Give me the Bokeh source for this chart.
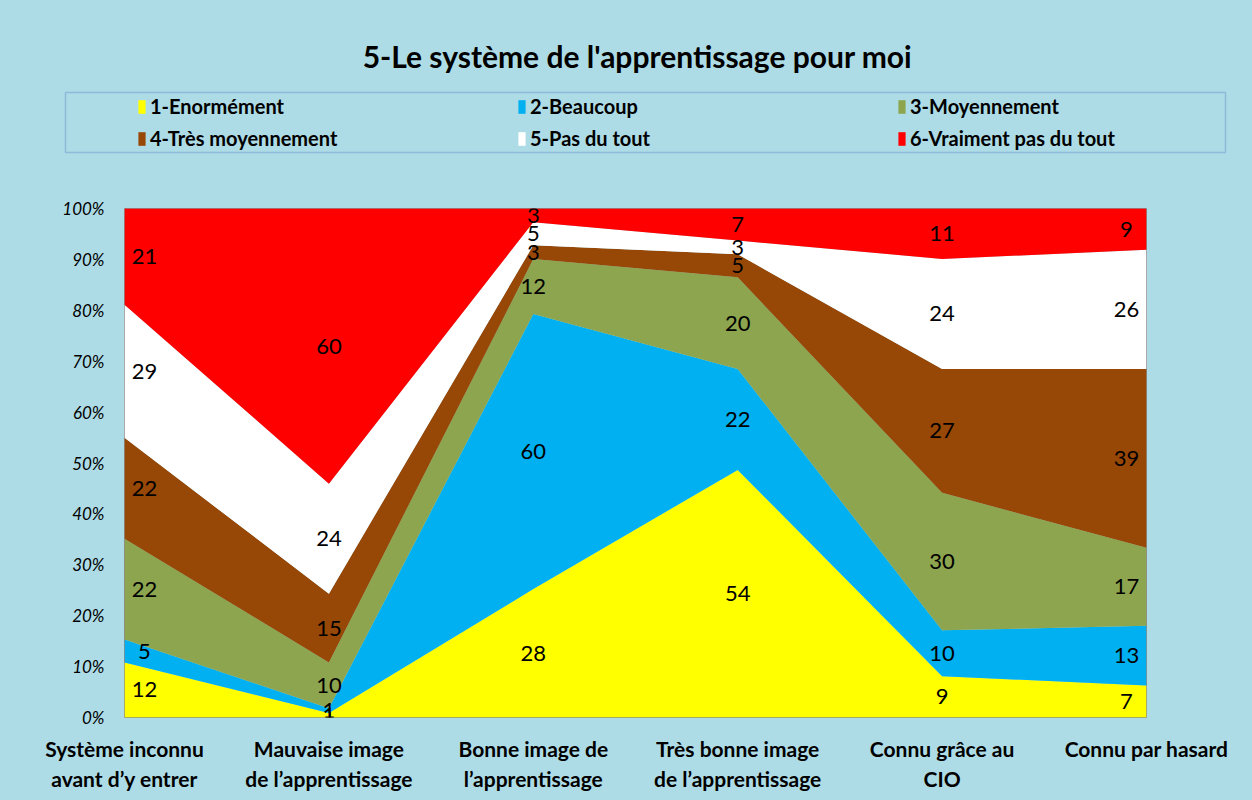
import numpy as np
from bokeh.plotting import figure
from bokeh.models import (ColumnDataSource, Range1d, NumeralTickFormatter, Legend, LegendItem,
                          FixedTicker, Label, BoxAnnotation)
from bokeh.core.properties import value
from bokeh.embed import file_html
from bokeh.resources import INLINE

# ---- data ----
title_text = "5-Le système de l'apprentissage pour moi"
categories = ["Système inconnu\navant d’y entrer", "Mauvaise image\nde l’apprentissage",
              "Bonne image de\nl’apprentissage", "Très bonne image\nde l’apprentissage",
              "Connu grâce au\nCIO", "Connu par hasard"]
series_names = ["1-Enormément", "2-Beaucoup", "3-Moyennement",
                "4-Très moyennement", "5-Pas du tout", "6-Vraiment pas du tout"]
enormement = [12, 1, 28, 54, 9, 7]
beaucoup = [5, 1, 60, 22, 10, 13]
moyennement = [22, 10, 12, 20, 30, 17]
tres_moyennement = [22, 15, 3, 5, 27, 39]
pas_du_tout = [29, 24, 5, 3, 24, 26]
vraiment_pas = [21, 60, 3, 7, 11, 9]
y_ticks = [0, 0.1, 0.2, 0.3, 0.4, 0.5, 0.6, 0.7, 0.8, 0.9, 1.0]
colors = ["#FFFF00", "#00B0F0", "#8CA54E", "#974706", "#FFFFFF", "#FF0000"]

series = [enormement, beaucoup, moyennement, tres_moyennement, pas_du_tout, vraiment_pas]
vals = np.array(series, dtype=float)
totals = vals.sum(axis=0)
fracs = vals / totals

xs = list(range(len(categories)))
keys = ["s%d" % i for i in range(len(series))]
src = ColumnDataSource(dict(x=xs, **{k: fracs[i] for i, k in enumerate(keys)}))

BG = "#AEDCE6"
W = 1250

# ---------------- header: title + legend ----------------
HH = 190
header = figure(width=W, height=HH, output_backend="svg", toolbar_location=None,
                x_range=Range1d(0, W), y_range=Range1d(HH, 0),
                x_axis_type=None, y_axis_type=None, min_border=0,
                background_fill_color=BG, border_fill_color=BG, outline_line_color=None)
header.grid.grid_line_color = None
header.extra_x_ranges = {"off": Range1d(1000, 1001)}
hrends = header.varea_stack(stackers=keys, x="x", color=colors, source=src, x_range_name="off")

header.add_layout(Label(x=637, y=55, text=title_text, text_align="center", text_baseline="middle",
                        text_font="Lato", text_font_style="bold", text_font_size="30px",
                        text_color="#000000"))
header.add_layout(BoxAnnotation(left=65, right=1225, top=92, bottom=152, fill_alpha=0,
                                line_color="#4472C4", line_width=1.5))
order = [0, 3, 1, 4, 2, 5]  # column-major fill -> rows as in the original
items = [LegendItem(label=series_names[i], renderers=[hrends[i]]) for i in order]
legend = Legend(items=items, ncols=3, location=(137, 40),
                glyph_width=9, glyph_height=17, label_standoff=4, label_width=359,
                spacing=8, padding=0, margin=0,
                label_text_font="Lato", label_text_font_style="bold", label_text_font_size="20px",
                label_text_color="#000000",
                border_line_color=None, background_fill_alpha=0)
header.add_layout(legend, "center")

# ---------------- main chart ----------------
p = figure(width=W, height=608, output_backend="svg", toolbar_location=None,
           x_range=Range1d(0, len(categories) - 1), y_range=Range1d(0, 1),
           min_border_left=124, min_border_right=104, min_border_top=18, min_border_bottom=81,
           background_fill_color=BG, border_fill_color=BG,
           outline_line_color="#8c8c8c", outline_line_width=1)

p.varea_stack(stackers=keys, x="x", color=colors, source=src)

# labels at segment midpoints
cum = np.cumsum(fracs, axis=0)
lx, ly, lt, lo = [], [], [], []
cat_off = [20, 0, 0, 0, 0, -20]
for i in range(len(series)):
    for j in range(len(categories)):
        lx.append(xs[j])
        ly.append(cum[i, j] - fracs[i, j] / 2)
        lt.append(str(int(vals[i, j])))
        lo.append(cat_off[j])
lsrc = ColumnDataSource(dict(x=lx, y=ly, text=lt, xo=lo))
p.text(x="x", y="y", text="text", x_offset="xo", source=lsrc, text_align="center",
       text_baseline="middle", text_font=value("Lato"), text_font_size="22px", text_color="#000000")

p.xaxis.ticker = FixedTicker(ticks=xs)
p.xaxis.major_label_overrides = {x: c for x, c in zip(xs, categories)}
p.xaxis.major_label_text_font = "Lato"
p.xaxis.major_label_text_font_style = "bold"
p.xaxis.major_label_text_font_size = "21px"
p.xaxis.major_label_text_color = "#000000"
p.xaxis.major_label_standoff = 12
p.xaxis.axis_line_color = None
p.xaxis.major_tick_line_color = None
p.xaxis.minor_tick_line_color = None

p.yaxis.ticker = FixedTicker(ticks=y_ticks)
p.yaxis.formatter = NumeralTickFormatter(format="0%")
p.yaxis.major_label_text_font = "Lato"
p.yaxis.major_label_text_font_style = "italic"
p.yaxis.major_label_text_font_size = "17px"
p.yaxis.major_label_text_color = "#000000"
p.yaxis.major_label_standoff = 14
p.yaxis.axis_line_color = None
p.yaxis.major_tick_line_color = None
p.yaxis.minor_tick_line_color = None
p.grid.grid_line_color = None

page_template = """
{% block postamble %}
<style>html, body { background-color: #AEDCE6; }</style>
{% endblock %}
"""
open("out.html", "w").write(file_html([header, p], INLINE, template=page_template))
